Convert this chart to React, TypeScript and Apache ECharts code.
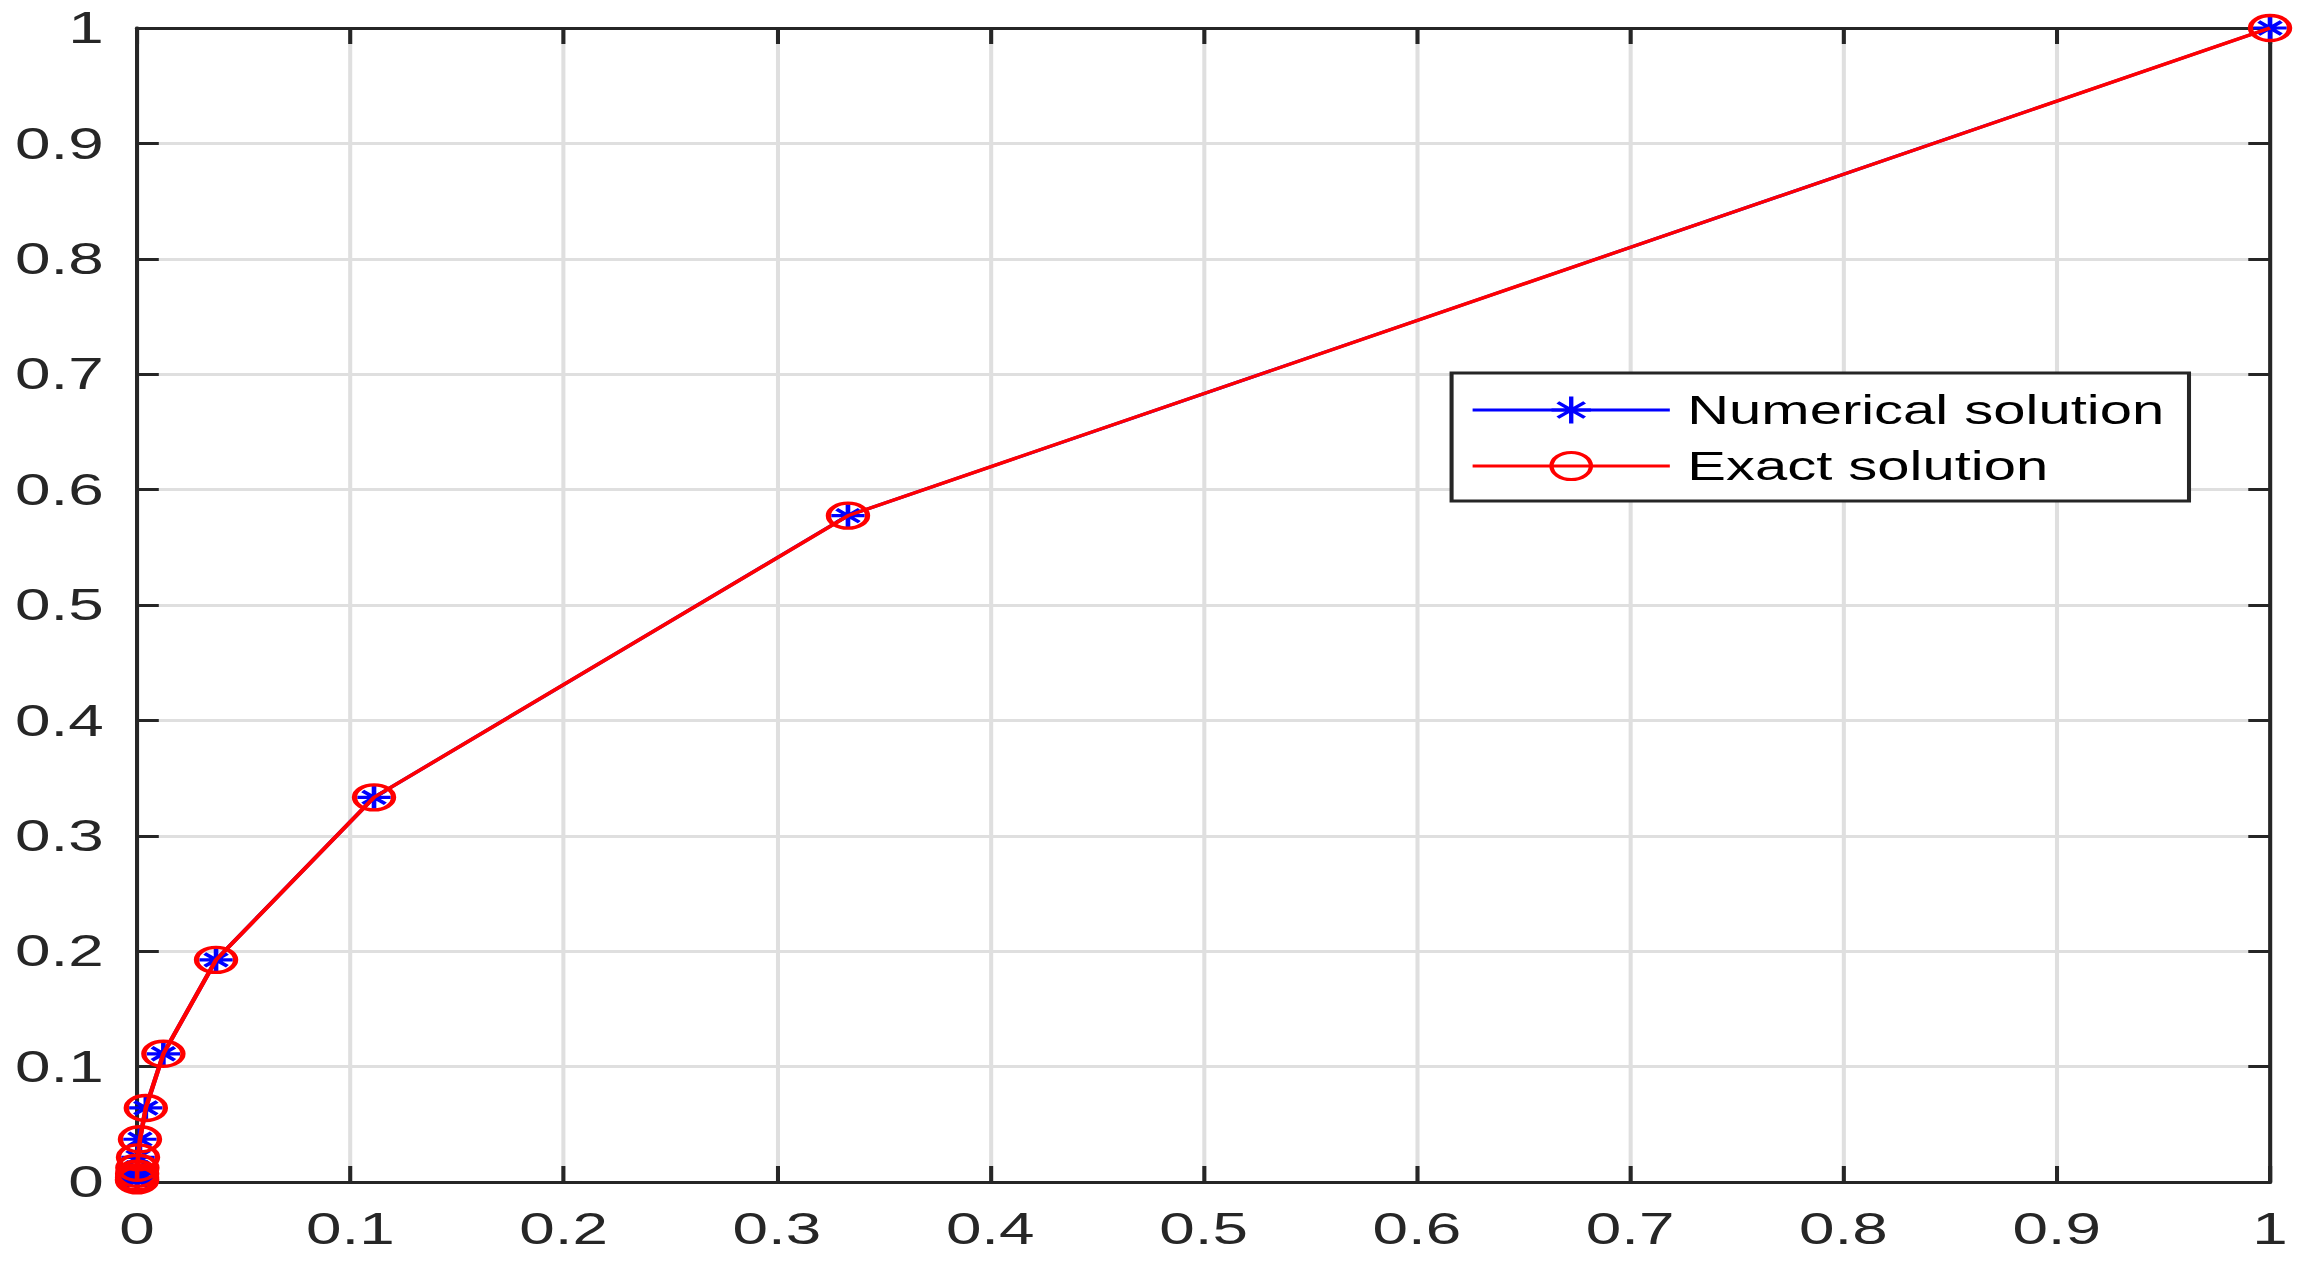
import React, { useEffect, useRef } from "react";
import * as echarts from "echarts";

// step sizes h = 3^-k (x) and solution values (y)
const xValues = [1, 0.3333, 0.1111, 0.03704, 0.01235, 0.004115, 0.001372, 0.000457, 0.0001524, 0.0000508, 0.0000169, 0.0000056, 0.0000019];
const numericalValues = [1, 0.5774, 0.3333, 0.1925, 0.1111, 0.06415, 0.03704, 0.02138, 0.01235, 0.00713, 0.004115, 0.002376, 0.001372];
const exactValues = [1, 0.5774, 0.3333, 0.1925, 0.1111, 0.06415, 0.03704, 0.02138, 0.01235, 0.00713, 0.004115, 0.002376, 0.001372];
const seriesNames = ["Numerical solution", "Exact solution"];

const AXIS = "#262626";
const GRID = "#dfdfdf";
const BLUE = "#0000ff";
const RED = "#ff0000";

// The reference figure is stretched horizontally; the chart is drawn at an
// inner width and stretched to the page width with a CSS transform.
const PAGE_W = 2297;
const PAGE_H = 1268;
const INNER_W = 1584;
const STRETCH = PAGE_W / INNER_W;

const ELLIPSE =
  "path://M0,50 C0,22.4 22.4,0 50,0 C77.6,0 100,22.4 100,50 C100,77.6 77.6,100 50,100 C22.4,100 0,77.6 0,50 Z";
const STAR = "path://M50,0 L50,100 M0,50 L100,50 M16,22 L84,78 M16,78 L84,22";

export default function App() {
  const ref = useRef<HTMLDivElement>(null);
  useEffect(() => {
    const chart = echarts.init(ref.current!, null, { renderer: "svg" });
    const labelStyle = {
      fontSize: 44,
      fontFamily: "Liberation Sans",
      color: AXIS,
      showMinLabel: true,
      showMaxLabel: true,
    };
    const xBase = {
      type: "value",
      min: 0,
      max: 1,
      interval: 0.1,
      axisLine: { show: true, onZero: false, lineStyle: { color: AXIS, width: 3 } },
      axisTick: { show: true, inside: true, length: 16, lineStyle: { color: AXIS, width: 2.8 } },
    };
    const yBase = {
      type: "value",
      min: 0,
      max: 1,
      interval: 0.1,
      axisLine: { show: true, onZero: false, lineStyle: { color: AXIS, width: 2.8 } },
      axisTick: { show: true, inside: true, length: 15, lineStyle: { color: AXIS, width: 3 } },
    };
    chart.setOption({
      animation: false,
      backgroundColor: "#ffffff",
      grid: { left: 94.5, right: 18.6, top: 28, bottom: 86 },
      xAxis: [
        {
          ...xBase,
          position: "bottom",
          axisLabel: { ...labelStyle, margin: 25 },
          splitLine: { show: true, lineStyle: { color: GRID, width: 2.8 } },
        },
        {
          ...xBase,
          position: "top",
          axisLabel: { show: false },
          splitLine: { show: false },
        },
      ],
      yAxis: [
        {
          ...yBase,
          position: "left",
          axisLabel: { ...labelStyle, margin: 23 },
          splitLine: { show: true, lineStyle: { color: GRID, width: 3 } },
        },
        {
          ...yBase,
          position: "right",
          axisLabel: { show: false },
          splitLine: { show: false },
        },
      ],
      legend: {
        orient: "vertical",
        left: 1001,
        top: 373,
        padding: [17, 17, 15, 13],
        itemWidth: 136,
        itemHeight: 34,
        itemGap: 16,
        borderColor: AXIS,
        borderWidth: 2.8,
        borderRadius: 0,
        backgroundColor: "#ffffff",
        selectedMode: false,
        textStyle: {
          fontSize: 40,
          lineHeight: 34,
          fontFamily: "Liberation Sans",
          color: "#000000",
          padding: [0, 0, 0, 7],
        },
        data: [
          {
            name: seriesNames[0],
            itemStyle: { color: "transparent", borderColor: BLUE, borderWidth: 3 },
            lineStyle: { color: BLUE, width: 3 },
          },
          {
            name: seriesNames[1],
            itemStyle: { color: "transparent", borderColor: RED, borderWidth: 3 },
            lineStyle: { color: RED, width: 3 },
          },
        ],
      },
      series: [
        {
          name: seriesNames[0],
          type: "line",
          data: xValues.map((x, i) => [x, numericalValues[i]]),
          symbol: STAR,
          symbolSize: [23, 23],
          showAllSymbol: true,
          clip: false,
          silent: true,
          z: 2,
          lineStyle: { color: BLUE, width: 3 },
          itemStyle: { color: "transparent", borderColor: BLUE, borderWidth: 3.2 },
        },
        {
          name: seriesNames[1],
          type: "line",
          data: xValues.map((x, i) => [x, exactValues[i]]),
          symbol: ELLIPSE,
          symbolSize: [27, 25],
          showAllSymbol: true,
          clip: false,
          silent: true,
          z: 3,
          lineStyle: { color: RED, width: 3.2 },
          itemStyle: { color: "transparent", borderColor: RED, borderWidth: 3.5 },
        },
      ],
    });
    return () => chart.dispose();
  }, []);
  return (
    <div
      ref={ref}
      style={{
        position: "absolute",
        left: 0,
        top: 0,
        width: INNER_W,
        height: PAGE_H,
        background: "#ffffff",
        transform: `scaleX(${STRETCH})`,
        transformOrigin: "0 0",
      }}
    />
  );
}
